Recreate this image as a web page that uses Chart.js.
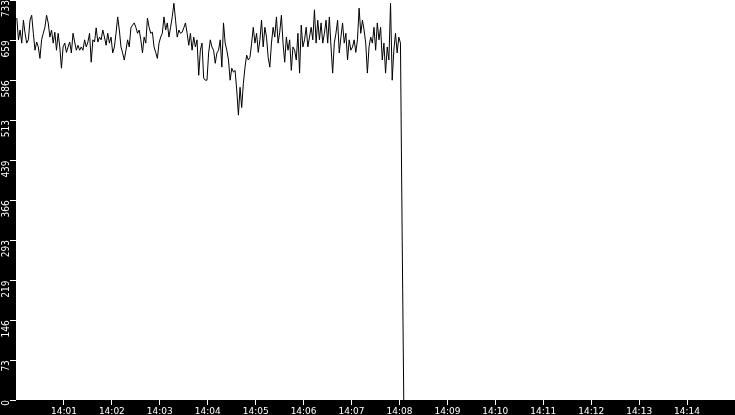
<!DOCTYPE html>
<html>
<head>
<meta charset="utf-8">
<script src="https://cdn.jsdelivr.net/npm/chart.js@4/dist/chart.umd.min.js"></script>
<style>
  html, body { margin: 0; padding: 0; background: #000; }
  #wrap { width: 735px; height: 415px; position: relative; }
</style>
</head>
<body>
<div id="wrap"><canvas id="c"></canvas></div>
<script>
// ---- Data ----
const startTime = "14:00:01";      // time of first sample
const sampleSeconds = 2.07;         // sampling interval
const axisStart = "14:00:00";
const axisEnd = "14:15:00";
const values = [
  700,660,678,654,696,672,654,660,696,705,672,641,656,647,626,660,672,683,705,691,
  665,678,654,674,641,672,647,608,647,654,637,647,656,636,672,656,641,650,641,647,
  641,660,647,656,672,619,660,656,682,656,665,660,678,665,650,672,654,665,636,647,
  672,702,678,647,636,623,641,660,647,682,687,691,683,672,678,660,636,665,654,700,
  683,672,674,647,637,626,654,665,672,702,678,691,665,683,702,727,696,665,678,672,
  674,682,691,672,650,672,641,665,647,660,595,641,654,590,586,586,636,660,647,
  641,617,636,641,660,610,691,654,641,623,586,608,601,604,568,522,573,536,580,610,
  632,623,628,654,683,654,672,637,660,696,647,683,665,628,610,654,683,665,702,654,
  674,705,654,619,665,641,660,604,647,641,623,672,599,687,647,660,683,647,665,
  683,660,715,654,696,660,691,654,672,696,654,702,647,599,654,672,696,636,665,691,
  654,672,623,660,641,647,660,637,660,718,672,696,678,654,599,647,665,654,683,641,
  691,660,683,623,654,599,647,623,727,586,641,672,636,665,654,
  310,0
];
const xTickLabels = ["14:01","14:02","14:03","14:04","14:05","14:06","14:07","14:08","14:09","14:10","14:11","14:12","14:13","14:14"];
const yTickLabels = [0,73,146,219,293,366,439,513,586,659,733];
const yMax = 733;

// ---- Helpers ----
function toSec(t) {
  const p = t.split(":").map(Number);
  return p[0] * 3600 + p[1] * 60 + (p[2] || 0);
}
const t0 = toSec(axisStart);
const tStart = toSec(startTime) - t0;
const points = values.map((v, i) => ({ x: tStart + i * sampleSeconds, y: v }));

const bgPlugin = {
  id: "bg",
  beforeDraw(chart) {
    const ctx = chart.ctx, a = chart.chartArea;
    ctx.save();
    ctx.fillStyle = "#000";
    ctx.fillRect(0, 0, chart.width, chart.height);
    ctx.fillStyle = "#fff";
    ctx.fillRect(a.left, a.top, a.right - a.left, a.bottom - a.top);
    ctx.restore();
  }
};

new Chart(document.getElementById("c"), {
  type: "line",
  data: {
    datasets: [{
      data: points,
      borderColor: "#000",
      borderWidth: 1,
      pointRadius: 0,
      tension: 0,
      fill: false
    }]
  },
  options: {
    responsive: true,
    maintainAspectRatio: false,
    animation: false,
    layout: { padding: 0 },
    plugins: { legend: { display: false }, tooltip: { enabled: false } },
    scales: {
      x: {
        type: "linear",
        min: 0,
        max: toSec(axisEnd) - t0,
        afterBuildTicks(s) {
          s.ticks = xTickLabels.map(l => ({ value: toSec(l) - t0 }));
        },
        afterFit(s) {
          s.height = 15;
          s.paddingLeft = 0; s.paddingRight = 0;
        },
        border: { display: false },
        grid: { drawOnChartArea: false, drawTicks: true, tickLength: 5, tickColor: "#fff", color: "#fff" },
        ticks: {
          color: "#fff",
          autoSkip: false,
          maxRotation: 0,
          minRotation: 0,
          padding: 1,
          font: { family: "'DejaVu Sans', sans-serif", size: 9 },
          callback(v) {
            const i = xTickLabels.findIndex(l => toSec(l) - t0 === v);
            return i >= 0 ? xTickLabels[i] : "";
          }
        }
      },
      y: {
        type: "linear",
        min: 0,
        max: yMax,
        afterBuildTicks(s) {
          s.ticks = yTickLabels.map(v => ({ value: v }));
        },
        afterFit(s) {
          s.width = 16;
          s.paddingTop = 0; s.paddingBottom = 0;
        },
        border: { display: false },
        grid: { drawOnChartArea: false, drawTicks: true, tickLength: 6, tickColor: "#fff", color: "#fff" },
        ticks: {
          color: "#fff",
          autoSkip: false,
          minRotation: 90,
          maxRotation: 90,
          padding: 4,
          font: { family: "'Liberation Sans Narrow', 'DejaVu Sans Condensed', sans-serif", size: 10 },
          callback(v) { return String(v); }
        }
      }
    }
  },
  plugins: [bgPlugin]
});
</script>
</body>
</html>
